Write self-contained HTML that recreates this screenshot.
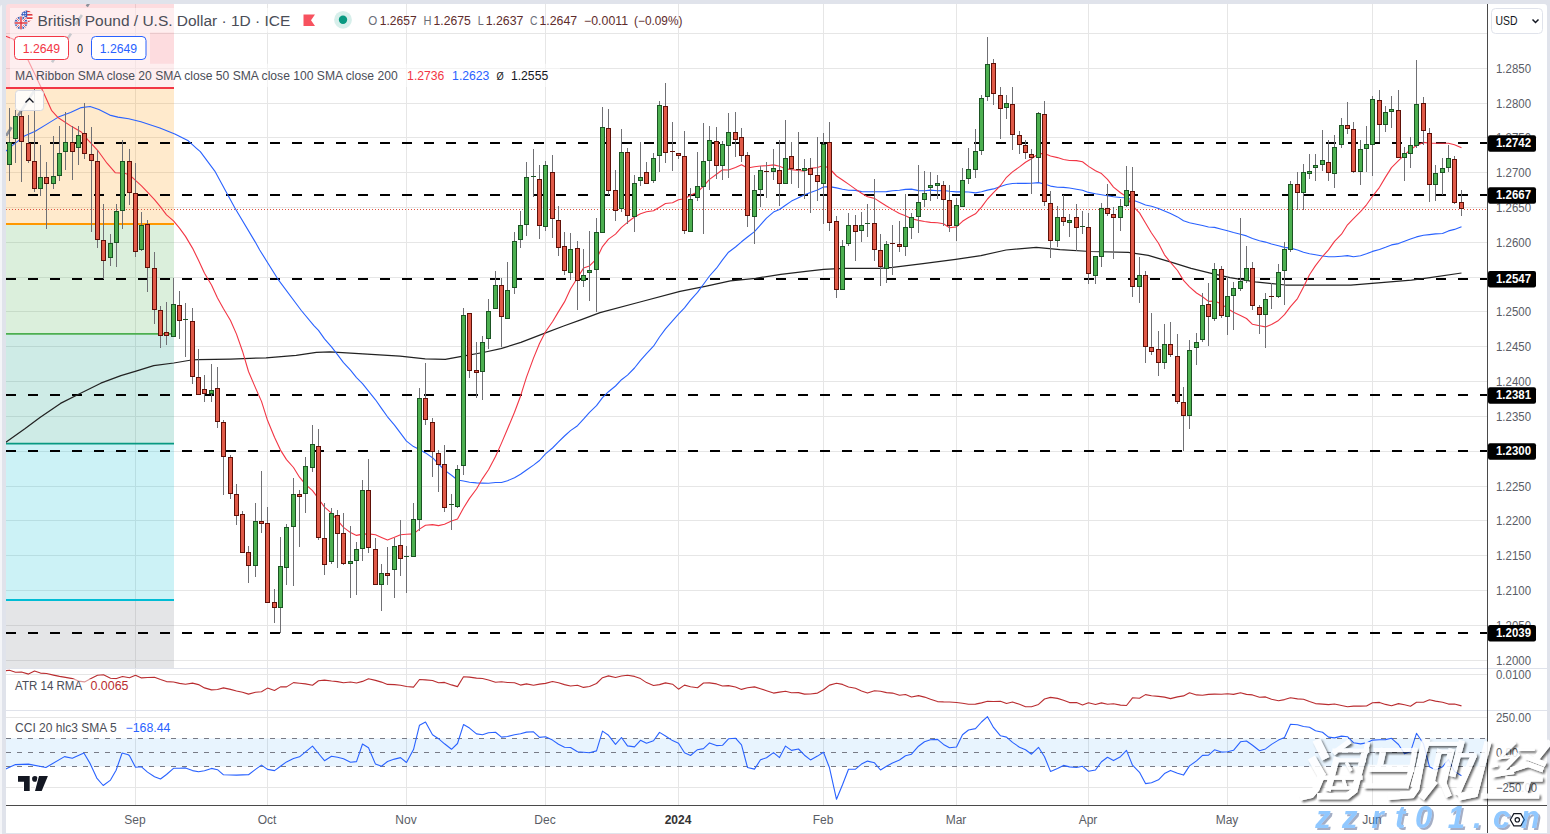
<!DOCTYPE html>
<html><head><meta charset="utf-8"><title>GBPUSD</title><style>html,body{margin:0;padding:0;background:#fff;}body{width:1550px;height:834px;overflow:hidden;font-family:"Liberation Sans",sans-serif;}svg{display:block;}</style></head><body>
<svg width="1550" height="834" viewBox="0 0 1550 834">
<rect width="1550" height="834" fill="#ffffff"/>
<g stroke="#e6e6e6" stroke-width="1" shape-rendering="crispEdges"><line x1="6" x2="1487.5" y1="33.5" y2="33.5"/><line x1="6" x2="1487.5" y1="68.5" y2="68.5"/><line x1="6" x2="1487.5" y1="103.5" y2="103.5"/><line x1="6" x2="1487.5" y1="137.5" y2="137.5"/><line x1="6" x2="1487.5" y1="172.5" y2="172.5"/><line x1="6" x2="1487.5" y1="207.5" y2="207.5"/><line x1="6" x2="1487.5" y1="242.5" y2="242.5"/><line x1="6" x2="1487.5" y1="277.5" y2="277.5"/><line x1="6" x2="1487.5" y1="311.5" y2="311.5"/><line x1="6" x2="1487.5" y1="346.5" y2="346.5"/><line x1="6" x2="1487.5" y1="381.5" y2="381.5"/><line x1="6" x2="1487.5" y1="416.5" y2="416.5"/><line x1="6" x2="1487.5" y1="451.5" y2="451.5"/><line x1="6" x2="1487.5" y1="486.5" y2="486.5"/><line x1="6" x2="1487.5" y1="520.5" y2="520.5"/><line x1="6" x2="1487.5" y1="555.5" y2="555.5"/><line x1="6" x2="1487.5" y1="590.5" y2="590.5"/><line x1="6" x2="1487.5" y1="625.5" y2="625.5"/><line x1="6" x2="1487.5" y1="660.5" y2="660.5"/><line x1="135.5" x2="135.5" y1="4" y2="805.5"/><line x1="267.5" x2="267.5" y1="4" y2="805.5"/><line x1="406.5" x2="406.5" y1="4" y2="805.5"/><line x1="545.5" x2="545.5" y1="4" y2="805.5"/><line x1="678.5" x2="678.5" y1="4" y2="805.5"/><line x1="823.5" x2="823.5" y1="4" y2="805.5"/><line x1="956.5" x2="956.5" y1="4" y2="805.5"/><line x1="1088.5" x2="1088.5" y1="4" y2="805.5"/><line x1="1227.5" x2="1227.5" y1="4" y2="805.5"/><line x1="1372.5" x2="1372.5" y1="4" y2="805.5"/><line x1="6" x2="1487.5" y1="674.5" y2="674.5"/><line x1="6" x2="1487.5" y1="717.5" y2="717.5"/><line x1="6" x2="1487.5" y1="787.5" y2="787.5"/></g>
<rect x="6" y="4" width="168" height="84" fill="#f7525f" fill-opacity="0.2"/>
<rect x="6" y="88" width="168" height="136" fill="#ff9800" fill-opacity="0.2"/>
<rect x="6" y="224" width="168" height="109.80000000000001" fill="#4caf50" fill-opacity="0.2"/>
<rect x="6" y="333.8" width="168" height="109.89999999999998" fill="#089981" fill-opacity="0.2"/>
<rect x="6" y="443.7" width="168" height="156.3" fill="#00bcd4" fill-opacity="0.2"/>
<rect x="6" y="600" width="168" height="68" fill="#787b86" fill-opacity="0.2"/>
<line x1="6" x2="174" y1="88" y2="88" stroke="#f23645" stroke-width="1.8"/>
<line x1="6" x2="174" y1="224" y2="224" stroke="#ff9800" stroke-width="1.8"/>
<line x1="6" x2="174" y1="333.8" y2="333.8" stroke="#4caf50" stroke-width="1.8"/>
<line x1="6" x2="174" y1="443.7" y2="443.7" stroke="#089981" stroke-width="1.8"/>
<line x1="6" x2="174" y1="600" y2="600" stroke="#00bcd4" stroke-width="1.8"/>
<line x1="6" x2="1487.5" y1="143" y2="143" stroke="#000" stroke-width="2" stroke-dasharray="10 12" shape-rendering="crispEdges"/>
<line x1="6" x2="1487.5" y1="195" y2="195" stroke="#000" stroke-width="2" stroke-dasharray="10 12" shape-rendering="crispEdges"/>
<line x1="6" x2="1487.5" y1="279" y2="279" stroke="#000" stroke-width="2" stroke-dasharray="10 12" shape-rendering="crispEdges"/>
<line x1="6" x2="1487.5" y1="395" y2="395" stroke="#000" stroke-width="2" stroke-dasharray="10 12" shape-rendering="crispEdges"/>
<line x1="6" x2="1487.5" y1="451" y2="451" stroke="#000" stroke-width="2" stroke-dasharray="10 12" shape-rendering="crispEdges"/>
<line x1="6" x2="1487.5" y1="633" y2="633" stroke="#000" stroke-width="2" stroke-dasharray="10 12" shape-rendering="crispEdges"/>
<line x1="6" x2="1487.5" y1="209.5" y2="209.5" stroke="#e0533f" stroke-width="1" stroke-dasharray="1 2" shape-rendering="crispEdges"/>
<path d="M6.1,135.8L11.5,127.2M18,115.7L34.2,90.8M52,62.3L71,33.6M75.6,24.4L81.9,15.1M86.8,6.5L89,3" fill="none" stroke="#8f929b" stroke-width="2.6"/>
<polyline points="5.5,442.4 25.2,428.5 40.3,417.2 60.5,403.4 80.6,393.3 100.8,383.2 120.9,375.6 136.0,371.1 153.7,365.6 173.8,363.0 191.4,360.0 198.0,359.6 230.8,359.1 266.0,357.8 296.2,355.3 316.4,352.3 330.0,351.8 400.0,356.2 425.2,358.8 445.3,359.3 463.0,356.2 483.1,352.5 500.8,348.7 520.9,342.4 543.6,333.6 563.7,326.0 581.4,319.7 600.0,312.7 640.0,302.0 680.0,291.4 705.2,286.4 730.4,280.9 755.6,278.3 780.8,274.3 805.9,271.3 823.6,269.3 843.7,268.3 880.0,268.3 892.7,267.4 923.0,263.7 955.7,259.4 980.9,255.6 1006.1,250.0 1036.3,247.3 1060.0,249.6 1090.4,251.5 1128.2,252.3 1148.3,255.3 1171.0,262.1 1191.1,268.4 1211.3,273.4 1230.0,277.6 1255.2,281.9 1285.4,285.0 1320.0,285.2 1350.9,285.1 1381.1,282.6 1411.4,280.1 1430.0,277.6 1461.5,273.0" fill="none" stroke="#222222" stroke-width="1.25" stroke-linejoin="round" />
<polyline points="6.1,151.0 12.2,145.6 24.4,136.1 35.2,131.3 46.1,124.6 58.3,117.1 70.5,112.4 81.3,107.6 90.1,106.5 98.9,109.6 109.8,115.1 117.9,117.1 128.7,118.7 140.9,121.8 159.9,127.9 174.8,134.0 188.3,140.8 196.5,148.3 200.3,151.7 214.8,171.1 234.9,208.0 255.0,241.6 259.7,250.0 278.6,280.2 301.3,310.5 313.9,325.6 318.5,330.4 324.5,338.9 331.5,346.8 337.5,354.6 343.5,362.7 350.5,370.1 356.5,377.6 362.5,383.7 368.5,391.1 375.5,399.8 381.5,408.4 387.5,416.8 394.5,425.1 400.5,433.2 406.5,441.1 413.5,446.6 419.5,449.4 425.5,452.9 432.5,457.7 438.5,463.8 444.5,470.1 451.5,475.2 457.5,480.0 463.5,481.0 469.5,482.2 476.5,482.9 482.5,483.1 488.5,483.2 495.5,482.5 501.5,482.5 507.5,480.7 514.5,477.7 520.5,474.3 526.5,470.0 533.5,465.1 539.5,460.5 545.5,453.9 552.5,448.0 558.5,441.9 564.5,436.0 570.5,430.6 577.5,425.7 583.5,419.2 589.5,412.4 596.5,405.7 602.5,397.7 608.5,391.7 615.5,386.0 621.5,379.7 627.5,375.1 634.5,368.0 640.5,360.3 646.5,353.7 653.5,346.2 659.5,337.0 665.5,328.9 672.5,320.9 678.5,314.2 684.5,307.9 690.5,300.2 697.5,292.4 703.5,284.2 709.5,276.0 716.5,268.2 722.5,259.9 728.5,252.2 735.5,247.0 741.5,241.8 747.5,237.0 754.5,231.6 760.5,224.8 766.5,218.1 773.5,212.1 779.5,209.5 785.5,205.2 791.5,201.1 798.5,197.7 804.5,194.8 810.5,192.6 817.5,189.9 823.5,187.0 829.5,186.6 836.5,187.9 842.5,189.3 848.5,190.3 855.5,190.4 861.5,191.6 867.5,191.7 874.5,191.8 880.5,191.7 886.5,191.6 892.5,190.8 899.5,190.3 905.5,189.4 911.5,189.1 918.5,190.6 924.5,190.7 930.5,190.1 937.5,190.8 943.5,190.5 949.5,191.3 956.5,191.9 962.5,191.8 968.5,192.0 975.5,192.9 981.5,191.8 987.5,190.1 993.5,188.9 1000.5,186.4 1006.5,184.5 1012.5,183.5 1019.5,183.2 1025.5,183.4 1031.5,183.3 1038.5,182.6 1044.5,184.0 1050.5,186.1 1057.5,187.3 1063.5,187.4 1069.5,188.0 1076.5,189.2 1082.5,190.3 1088.5,192.4 1095.5,193.8 1101.5,194.8 1107.5,195.8 1113.5,196.7 1120.5,197.5 1126.5,197.8 1132.5,199.9 1139.5,202.5 1145.5,205.0 1151.5,206.2 1158.5,208.5 1164.5,210.9 1170.5,213.4 1177.5,216.9 1183.5,220.8 1189.5,222.8 1196.5,224.3 1202.5,225.5 1208.5,227.0 1214.5,227.4 1221.5,229.2 1227.5,230.8 1233.5,232.5 1240.5,234.3 1246.5,235.9 1252.5,238.4 1259.5,240.7 1265.5,242.1 1271.5,244.0 1278.5,245.8 1284.5,247.4 1290.5,248.1 1297.5,250.0 1303.5,252.2 1309.5,253.7 1315.5,254.8 1322.5,256.0 1328.5,256.7 1334.5,256.8 1341.5,256.2 1347.5,255.6 1353.5,256.8 1360.5,255.7 1366.5,253.8 1372.5,251.4 1379.5,249.5 1385.5,247.3 1391.5,244.9 1398.5,243.6 1404.5,241.2 1410.5,239.0 1416.5,236.9 1423.5,235.2 1429.5,234.6 1435.5,233.9 1442.5,233.5 1448.5,230.9 1454.5,229.4 1461.5,226.7" fill="none" stroke="#2962ff" stroke-width="1.1" stroke-linejoin="round" />
<polyline points="5.8,36.3 13.0,38.9 27.8,59.6 42.7,90.7 51.5,110.3 58.3,117.8 71.8,126.6 81.3,132.0 88.1,140.1 97.6,150.3 107.0,163.2 115.2,172.7 124.7,173.3 129.5,174.9 135.5,180.4 141.5,185.8 147.5,192.1 154.5,199.6 160.5,206.9 166.5,214.9 173.5,220.8 179.5,228.1 185.5,236.4 192.5,248.1 198.5,260.2 204.5,273.2 211.5,285.0 217.5,298.0 223.5,308.8 230.5,320.5 236.5,334.1 242.5,351.2 248.5,371.5 255.5,387.9 261.5,401.4 267.5,420.3 274.5,437.3 280.5,450.1 286.5,459.6 293.5,467.5 299.5,477.2 305.5,484.4 312.5,490.7 318.5,498.7 324.5,507.1 331.5,513.1 337.5,520.3 343.5,527.4 350.5,532.6 356.5,535.4 362.5,534.1 368.5,533.9 375.5,534.8 381.5,537.4 387.5,540.0 394.5,537.2 400.5,534.8 406.5,534.3 413.5,533.9 419.5,529.1 425.5,525.3 432.5,524.6 438.5,525.6 444.5,524.2 451.5,521.1 457.5,518.9 463.5,508.0 469.5,498.4 476.5,489.0 482.5,478.6 488.5,469.7 495.5,456.5 501.5,443.1 507.5,429.0 514.5,412.3 520.5,396.2 526.5,377.1 533.5,358.1 539.5,343.5 545.5,331.8 552.5,321.8 558.5,311.6 564.5,301.9 570.5,289.0 577.5,277.8 583.5,268.1 589.5,265.9 596.5,258.9 602.5,246.6 608.5,239.1 615.5,234.1 621.5,227.4 627.5,222.3 634.5,217.0 640.5,213.8 646.5,211.7 653.5,210.8 659.5,207.2 665.5,203.5 672.5,202.8 678.5,199.7 684.5,198.8 690.5,195.2 697.5,192.1 703.5,186.2 709.5,179.4 716.5,174.2 722.5,169.8 728.5,170.0 735.5,167.5 741.5,164.7 747.5,168.0 754.5,166.7 760.5,166.0 766.5,165.7 773.5,164.9 779.5,166.2 785.5,168.8 791.5,169.6 798.5,170.5 804.5,171.1 810.5,168.4 817.5,167.5 823.5,165.4 829.5,168.5 836.5,176.0 842.5,180.0 848.5,184.1 855.5,189.1 861.5,193.3 867.5,196.7 874.5,198.4 880.5,202.2 886.5,206.0 892.5,209.6 899.5,213.6 905.5,215.7 911.5,218.7 918.5,220.4 924.5,221.5 930.5,222.4 937.5,222.8 943.5,223.7 949.5,227.8 956.5,226.9 962.5,221.3 968.5,217.5 975.5,213.8 981.5,207.1 987.5,199.0 993.5,192.6 1000.5,185.5 1006.5,177.3 1012.5,171.9 1019.5,166.9 1025.5,162.2 1031.5,158.8 1038.5,153.6 1044.5,153.6 1050.5,156.0 1057.5,157.6 1063.5,159.5 1069.5,160.5 1076.5,160.6 1082.5,161.7 1088.5,166.4 1095.5,170.8 1101.5,173.6 1107.5,179.4 1113.5,187.1 1120.5,192.7 1126.5,196.7 1132.5,205.9 1139.5,212.9 1145.5,223.0 1151.5,233.0 1158.5,243.2 1164.5,254.8 1170.5,262.4 1177.5,270.5 1183.5,280.4 1189.5,286.8 1196.5,293.0 1202.5,296.8 1208.5,301.4 1214.5,301.1 1221.5,304.1 1227.5,308.5 1233.5,312.2 1240.5,315.4 1246.5,318.5 1252.5,324.3 1259.5,325.7 1265.5,326.9 1271.5,324.4 1278.5,320.4 1284.5,314.7 1290.5,306.7 1297.5,298.6 1303.5,287.1 1309.5,274.8 1315.5,265.6 1322.5,256.5 1328.5,249.9 1334.5,241.4 1341.5,234.2 1347.5,224.8 1353.5,218.6 1360.5,211.7 1366.5,204.8 1372.5,196.3 1379.5,187.3 1385.5,177.1 1391.5,167.6 1398.5,160.7 1404.5,154.8 1410.5,149.6 1416.5,145.5 1423.5,142.4 1429.5,143.1 1435.5,143.2 1442.5,143.3 1448.5,143.2 1454.5,144.7 1461.5,147.8" fill="none" stroke="#f23645" stroke-width="1.1" stroke-linejoin="round" />
<g shape-rendering="crispEdges"><rect x="9" y="108" width="1" height="73" fill="#707074"/><rect x="7" y="142" width="5" height="23" fill="#1b5423"/><rect x="8" y="143" width="3" height="21" fill="#4caf50"/><rect x="15" y="110" width="1" height="53" fill="#707074"/><rect x="13" y="116" width="5" height="23" fill="#1b5423"/><rect x="14" y="117" width="3" height="21" fill="#4caf50"/><rect x="21" y="109" width="1" height="73" fill="#707074"/><rect x="19" y="116" width="5" height="26" fill="#5e1008"/><rect x="20" y="117" width="3" height="24" fill="#e05a48"/><rect x="28" y="115" width="1" height="48" fill="#707074"/><rect x="26" y="143" width="5" height="18" fill="#5e1008"/><rect x="27" y="144" width="3" height="16" fill="#e05a48"/><rect x="34" y="89" width="1" height="103" fill="#707074"/><rect x="32" y="161" width="5" height="28" fill="#5e1008"/><rect x="33" y="162" width="3" height="26" fill="#e05a48"/><rect x="40" y="145" width="1" height="51" fill="#707074"/><rect x="38" y="177" width="5" height="12" fill="#1b5423"/><rect x="39" y="178" width="3" height="10" fill="#4caf50"/><rect x="46" y="162" width="1" height="67" fill="#707074"/><rect x="44" y="177" width="5" height="7" fill="#5e1008"/><rect x="45" y="178" width="3" height="5" fill="#e05a48"/><rect x="53" y="136" width="1" height="53" fill="#707074"/><rect x="51" y="176" width="5" height="8" fill="#1b5423"/><rect x="52" y="177" width="3" height="6" fill="#4caf50"/><rect x="59" y="126" width="1" height="55" fill="#707074"/><rect x="57" y="153" width="5" height="23" fill="#1b5423"/><rect x="58" y="154" width="3" height="21" fill="#4caf50"/><rect x="65" y="112" width="1" height="58" fill="#707074"/><rect x="63" y="142" width="5" height="10" fill="#1b5423"/><rect x="64" y="143" width="3" height="8" fill="#4caf50"/><rect x="72" y="126" width="1" height="54" fill="#707074"/><rect x="70" y="142" width="5" height="10" fill="#5e1008"/><rect x="71" y="143" width="3" height="8" fill="#e05a48"/><rect x="78" y="126" width="1" height="39" fill="#707074"/><rect x="76" y="135" width="5" height="13" fill="#1b5423"/><rect x="77" y="136" width="3" height="11" fill="#4caf50"/><rect x="84" y="103" width="1" height="56" fill="#707074"/><rect x="82" y="133" width="5" height="21" fill="#5e1008"/><rect x="83" y="134" width="3" height="19" fill="#e05a48"/><rect x="91" y="127" width="1" height="105" fill="#707074"/><rect x="89" y="154" width="5" height="7" fill="#5e1008"/><rect x="90" y="155" width="3" height="5" fill="#e05a48"/><rect x="97" y="150" width="1" height="98" fill="#707074"/><rect x="95" y="161" width="5" height="79" fill="#5e1008"/><rect x="96" y="162" width="3" height="77" fill="#e05a48"/><rect x="103" y="204" width="1" height="75" fill="#707074"/><rect x="101" y="240" width="5" height="21" fill="#5e1008"/><rect x="102" y="241" width="3" height="19" fill="#e05a48"/><rect x="110" y="234" width="1" height="32" fill="#707074"/><rect x="108" y="243" width="5" height="15" fill="#1b5423"/><rect x="109" y="244" width="3" height="13" fill="#4caf50"/><rect x="116" y="204" width="1" height="63" fill="#707074"/><rect x="114" y="211" width="5" height="32" fill="#1b5423"/><rect x="115" y="212" width="3" height="30" fill="#4caf50"/><rect x="122" y="140" width="1" height="89" fill="#707074"/><rect x="120" y="161" width="5" height="50" fill="#1b5423"/><rect x="121" y="162" width="3" height="48" fill="#4caf50"/><rect x="129" y="149" width="1" height="56" fill="#707074"/><rect x="127" y="161" width="5" height="32" fill="#5e1008"/><rect x="128" y="162" width="3" height="30" fill="#e05a48"/><rect x="135" y="163" width="1" height="94" fill="#707074"/><rect x="133" y="193" width="5" height="59" fill="#5e1008"/><rect x="134" y="194" width="3" height="57" fill="#e05a48"/><rect x="141" y="212" width="1" height="39" fill="#707074"/><rect x="139" y="225" width="5" height="25" fill="#1b5423"/><rect x="140" y="226" width="3" height="23" fill="#4caf50"/><rect x="147" y="220" width="1" height="72" fill="#707074"/><rect x="145" y="224" width="5" height="44" fill="#5e1008"/><rect x="146" y="225" width="3" height="42" fill="#e05a48"/><rect x="154" y="252" width="1" height="72" fill="#707074"/><rect x="152" y="268" width="5" height="42" fill="#5e1008"/><rect x="153" y="269" width="3" height="40" fill="#e05a48"/><rect x="160" y="306" width="1" height="42" fill="#707074"/><rect x="158" y="310" width="5" height="26" fill="#5e1008"/><rect x="159" y="311" width="3" height="24" fill="#e05a48"/><rect x="166" y="302" width="1" height="43" fill="#707074"/><rect x="164" y="332" width="5" height="4" fill="#5e1008"/><rect x="165" y="333" width="3" height="2" fill="#e05a48"/><rect x="173" y="278" width="1" height="59" fill="#707074"/><rect x="171" y="304" width="5" height="33" fill="#1b5423"/><rect x="172" y="305" width="3" height="31" fill="#4caf50"/><rect x="179" y="291" width="1" height="48" fill="#707074"/><rect x="177" y="305" width="5" height="16" fill="#5e1008"/><rect x="178" y="306" width="3" height="14" fill="#e05a48"/><rect x="185" y="303" width="1" height="54" fill="#707074"/><rect x="183" y="319" width="5" height="1" fill="#1b5423"/><rect x="192" y="308" width="1" height="76" fill="#707074"/><rect x="190" y="321" width="5" height="56" fill="#5e1008"/><rect x="191" y="322" width="3" height="54" fill="#e05a48"/><rect x="198" y="349" width="1" height="46" fill="#707074"/><rect x="196" y="377" width="5" height="18" fill="#5e1008"/><rect x="197" y="378" width="3" height="16" fill="#e05a48"/><rect x="204" y="375" width="1" height="27" fill="#707074"/><rect x="202" y="389" width="5" height="5" fill="#5e1008"/><rect x="203" y="390" width="3" height="3" fill="#e05a48"/><rect x="211" y="364" width="1" height="38" fill="#707074"/><rect x="209" y="390" width="5" height="4" fill="#1b5423"/><rect x="210" y="391" width="3" height="2" fill="#4caf50"/><rect x="217" y="367" width="1" height="61" fill="#707074"/><rect x="215" y="388" width="5" height="34" fill="#5e1008"/><rect x="216" y="389" width="3" height="32" fill="#e05a48"/><rect x="223" y="420" width="1" height="75" fill="#707074"/><rect x="221" y="422" width="5" height="35" fill="#5e1008"/><rect x="222" y="423" width="3" height="33" fill="#e05a48"/><rect x="230" y="455" width="1" height="44" fill="#707074"/><rect x="228" y="457" width="5" height="37" fill="#5e1008"/><rect x="229" y="458" width="3" height="35" fill="#e05a48"/><rect x="236" y="484" width="1" height="41" fill="#707074"/><rect x="234" y="494" width="5" height="22" fill="#5e1008"/><rect x="235" y="495" width="3" height="20" fill="#e05a48"/><rect x="242" y="511" width="1" height="42" fill="#707074"/><rect x="240" y="514" width="5" height="39" fill="#5e1008"/><rect x="241" y="515" width="3" height="37" fill="#e05a48"/><rect x="248" y="546" width="1" height="37" fill="#707074"/><rect x="246" y="552" width="5" height="14" fill="#5e1008"/><rect x="247" y="553" width="3" height="12" fill="#e05a48"/><rect x="255" y="503" width="1" height="74" fill="#707074"/><rect x="253" y="521" width="5" height="45" fill="#1b5423"/><rect x="254" y="522" width="3" height="43" fill="#4caf50"/><rect x="261" y="471" width="1" height="62" fill="#707074"/><rect x="259" y="521" width="5" height="3" fill="#5e1008"/><rect x="260" y="522" width="3" height="1" fill="#e05a48"/><rect x="267" y="507" width="1" height="96" fill="#707074"/><rect x="265" y="523" width="5" height="80" fill="#5e1008"/><rect x="266" y="524" width="3" height="78" fill="#e05a48"/><rect x="274" y="589" width="1" height="34" fill="#707074"/><rect x="272" y="602" width="5" height="6" fill="#5e1008"/><rect x="273" y="603" width="3" height="4" fill="#e05a48"/><rect x="280" y="537" width="1" height="96" fill="#707074"/><rect x="278" y="566" width="5" height="42" fill="#1b5423"/><rect x="279" y="567" width="3" height="40" fill="#4caf50"/><rect x="286" y="524" width="1" height="61" fill="#707074"/><rect x="284" y="527" width="5" height="41" fill="#1b5423"/><rect x="285" y="528" width="3" height="39" fill="#4caf50"/><rect x="293" y="478" width="1" height="108" fill="#707074"/><rect x="291" y="494" width="5" height="33" fill="#1b5423"/><rect x="292" y="495" width="3" height="31" fill="#4caf50"/><rect x="299" y="490" width="1" height="57" fill="#707074"/><rect x="297" y="494" width="5" height="3" fill="#5e1008"/><rect x="298" y="495" width="3" height="1" fill="#e05a48"/><rect x="305" y="457" width="1" height="56" fill="#707074"/><rect x="303" y="466" width="5" height="28" fill="#1b5423"/><rect x="304" y="467" width="3" height="26" fill="#4caf50"/><rect x="312" y="425" width="1" height="47" fill="#707074"/><rect x="310" y="444" width="5" height="24" fill="#1b5423"/><rect x="311" y="445" width="3" height="22" fill="#4caf50"/><rect x="318" y="429" width="1" height="111" fill="#707074"/><rect x="316" y="446" width="5" height="92" fill="#5e1008"/><rect x="317" y="447" width="3" height="90" fill="#e05a48"/><rect x="324" y="503" width="1" height="72" fill="#707074"/><rect x="322" y="538" width="5" height="27" fill="#5e1008"/><rect x="323" y="539" width="3" height="25" fill="#e05a48"/><rect x="331" y="508" width="1" height="56" fill="#707074"/><rect x="329" y="513" width="5" height="49" fill="#1b5423"/><rect x="330" y="514" width="3" height="47" fill="#4caf50"/><rect x="337" y="510" width="1" height="58" fill="#707074"/><rect x="335" y="515" width="5" height="19" fill="#5e1008"/><rect x="336" y="516" width="3" height="17" fill="#e05a48"/><rect x="343" y="513" width="1" height="52" fill="#707074"/><rect x="341" y="533" width="5" height="31" fill="#5e1008"/><rect x="342" y="534" width="3" height="29" fill="#e05a48"/><rect x="350" y="526" width="1" height="72" fill="#707074"/><rect x="348" y="561" width="5" height="3" fill="#1b5423"/><rect x="349" y="562" width="3" height="1" fill="#4caf50"/><rect x="356" y="542" width="1" height="53" fill="#707074"/><rect x="354" y="549" width="5" height="12" fill="#1b5423"/><rect x="355" y="550" width="3" height="10" fill="#4caf50"/><rect x="362" y="480" width="1" height="81" fill="#707074"/><rect x="360" y="490" width="5" height="59" fill="#1b5423"/><rect x="361" y="491" width="3" height="57" fill="#4caf50"/><rect x="368" y="459" width="1" height="94" fill="#707074"/><rect x="366" y="490" width="5" height="58" fill="#5e1008"/><rect x="367" y="491" width="3" height="56" fill="#e05a48"/><rect x="375" y="538" width="1" height="47" fill="#707074"/><rect x="373" y="549" width="5" height="36" fill="#5e1008"/><rect x="374" y="550" width="3" height="34" fill="#e05a48"/><rect x="381" y="564" width="1" height="47" fill="#707074"/><rect x="379" y="573" width="5" height="12" fill="#1b5423"/><rect x="380" y="574" width="3" height="10" fill="#4caf50"/><rect x="387" y="547" width="1" height="38" fill="#707074"/><rect x="385" y="573" width="5" height="3" fill="#5e1008"/><rect x="386" y="574" width="3" height="1" fill="#e05a48"/><rect x="394" y="538" width="1" height="60" fill="#707074"/><rect x="392" y="546" width="5" height="24" fill="#1b5423"/><rect x="393" y="547" width="3" height="22" fill="#4caf50"/><rect x="400" y="520" width="1" height="56" fill="#707074"/><rect x="398" y="545" width="5" height="14" fill="#5e1008"/><rect x="399" y="546" width="3" height="12" fill="#e05a48"/><rect x="406" y="546" width="1" height="47" fill="#707074"/><rect x="404" y="556" width="5" height="1" fill="#1b5423"/><rect x="413" y="503" width="1" height="54" fill="#707074"/><rect x="411" y="519" width="5" height="38" fill="#1b5423"/><rect x="412" y="520" width="3" height="36" fill="#4caf50"/><rect x="419" y="388" width="1" height="143" fill="#707074"/><rect x="417" y="398" width="5" height="122" fill="#1b5423"/><rect x="418" y="399" width="3" height="120" fill="#4caf50"/><rect x="425" y="363" width="1" height="62" fill="#707074"/><rect x="423" y="398" width="5" height="22" fill="#5e1008"/><rect x="424" y="399" width="3" height="20" fill="#e05a48"/><rect x="432" y="418" width="1" height="59" fill="#707074"/><rect x="430" y="422" width="5" height="30" fill="#5e1008"/><rect x="431" y="423" width="3" height="28" fill="#e05a48"/><rect x="438" y="450" width="1" height="42" fill="#707074"/><rect x="436" y="453" width="5" height="12" fill="#5e1008"/><rect x="437" y="454" width="3" height="10" fill="#e05a48"/><rect x="444" y="445" width="1" height="67" fill="#707074"/><rect x="442" y="464" width="5" height="44" fill="#5e1008"/><rect x="443" y="465" width="3" height="42" fill="#e05a48"/><rect x="451" y="494" width="1" height="36" fill="#707074"/><rect x="449" y="504" width="5" height="1" fill="#1b5423"/><rect x="457" y="465" width="1" height="43" fill="#707074"/><rect x="455" y="469" width="5" height="38" fill="#1b5423"/><rect x="456" y="470" width="3" height="36" fill="#4caf50"/><rect x="463" y="308" width="1" height="167" fill="#707074"/><rect x="461" y="315" width="5" height="151" fill="#1b5423"/><rect x="462" y="316" width="3" height="149" fill="#4caf50"/><rect x="469" y="313" width="1" height="65" fill="#707074"/><rect x="467" y="313" width="5" height="58" fill="#5e1008"/><rect x="468" y="314" width="3" height="56" fill="#e05a48"/><rect x="476" y="342" width="1" height="56" fill="#707074"/><rect x="474" y="370" width="5" height="3" fill="#5e1008"/><rect x="475" y="371" width="3" height="1" fill="#e05a48"/><rect x="482" y="336" width="1" height="64" fill="#707074"/><rect x="480" y="342" width="5" height="30" fill="#1b5423"/><rect x="481" y="343" width="3" height="28" fill="#4caf50"/><rect x="488" y="299" width="1" height="50" fill="#707074"/><rect x="486" y="311" width="5" height="28" fill="#1b5423"/><rect x="487" y="312" width="3" height="26" fill="#4caf50"/><rect x="495" y="271" width="1" height="38" fill="#707074"/><rect x="493" y="285" width="5" height="24" fill="#1b5423"/><rect x="494" y="286" width="3" height="22" fill="#4caf50"/><rect x="501" y="278" width="1" height="69" fill="#707074"/><rect x="499" y="285" width="5" height="32" fill="#5e1008"/><rect x="500" y="286" width="3" height="30" fill="#e05a48"/><rect x="507" y="262" width="1" height="57" fill="#707074"/><rect x="505" y="290" width="5" height="29" fill="#1b5423"/><rect x="506" y="291" width="3" height="27" fill="#4caf50"/><rect x="514" y="232" width="1" height="62" fill="#707074"/><rect x="512" y="241" width="5" height="47" fill="#1b5423"/><rect x="513" y="242" width="3" height="45" fill="#4caf50"/><rect x="520" y="211" width="1" height="37" fill="#707074"/><rect x="518" y="225" width="5" height="15" fill="#1b5423"/><rect x="519" y="226" width="3" height="13" fill="#4caf50"/><rect x="526" y="162" width="1" height="74" fill="#707074"/><rect x="524" y="177" width="5" height="48" fill="#1b5423"/><rect x="525" y="178" width="3" height="46" fill="#4caf50"/><rect x="533" y="149" width="1" height="48" fill="#707074"/><rect x="531" y="176" width="5" height="1" fill="#1b5423"/><rect x="539" y="165" width="1" height="74" fill="#707074"/><rect x="537" y="179" width="5" height="47" fill="#5e1008"/><rect x="538" y="180" width="3" height="45" fill="#e05a48"/><rect x="545" y="161" width="1" height="70" fill="#707074"/><rect x="543" y="165" width="5" height="62" fill="#1b5423"/><rect x="544" y="166" width="3" height="60" fill="#4caf50"/><rect x="552" y="155" width="1" height="83" fill="#707074"/><rect x="550" y="172" width="5" height="47" fill="#5e1008"/><rect x="551" y="173" width="3" height="45" fill="#e05a48"/><rect x="558" y="206" width="1" height="50" fill="#707074"/><rect x="556" y="220" width="5" height="28" fill="#5e1008"/><rect x="557" y="221" width="3" height="26" fill="#e05a48"/><rect x="564" y="232" width="1" height="43" fill="#707074"/><rect x="562" y="246" width="5" height="25" fill="#5e1008"/><rect x="563" y="247" width="3" height="23" fill="#e05a48"/><rect x="570" y="233" width="1" height="47" fill="#707074"/><rect x="568" y="249" width="5" height="24" fill="#1b5423"/><rect x="569" y="250" width="3" height="22" fill="#4caf50"/><rect x="577" y="241" width="1" height="69" fill="#707074"/><rect x="575" y="248" width="5" height="33" fill="#5e1008"/><rect x="576" y="249" width="3" height="31" fill="#e05a48"/><rect x="583" y="249" width="1" height="38" fill="#707074"/><rect x="581" y="275" width="5" height="6" fill="#1b5423"/><rect x="582" y="276" width="3" height="4" fill="#4caf50"/><rect x="589" y="231" width="1" height="70" fill="#707074"/><rect x="587" y="270" width="5" height="3" fill="#1b5423"/><rect x="588" y="271" width="3" height="1" fill="#4caf50"/><rect x="596" y="218" width="1" height="94" fill="#707074"/><rect x="594" y="232" width="5" height="38" fill="#1b5423"/><rect x="595" y="233" width="3" height="36" fill="#4caf50"/><rect x="602" y="107" width="1" height="126" fill="#707074"/><rect x="600" y="127" width="5" height="106" fill="#1b5423"/><rect x="601" y="128" width="3" height="104" fill="#4caf50"/><rect x="608" y="109" width="1" height="86" fill="#707074"/><rect x="606" y="128" width="5" height="63" fill="#5e1008"/><rect x="607" y="129" width="3" height="61" fill="#e05a48"/><rect x="615" y="170" width="1" height="51" fill="#707074"/><rect x="613" y="190" width="5" height="21" fill="#5e1008"/><rect x="614" y="191" width="3" height="19" fill="#e05a48"/><rect x="621" y="129" width="1" height="83" fill="#707074"/><rect x="619" y="152" width="5" height="57" fill="#1b5423"/><rect x="620" y="153" width="3" height="55" fill="#4caf50"/><rect x="627" y="148" width="1" height="76" fill="#707074"/><rect x="625" y="152" width="5" height="64" fill="#5e1008"/><rect x="626" y="153" width="3" height="62" fill="#e05a48"/><rect x="634" y="175" width="1" height="57" fill="#707074"/><rect x="632" y="183" width="5" height="34" fill="#1b5423"/><rect x="633" y="184" width="3" height="32" fill="#4caf50"/><rect x="640" y="142" width="1" height="44" fill="#707074"/><rect x="638" y="177" width="5" height="4" fill="#1b5423"/><rect x="639" y="178" width="3" height="2" fill="#4caf50"/><rect x="646" y="162" width="1" height="22" fill="#707074"/><rect x="644" y="172" width="5" height="12" fill="#5e1008"/><rect x="645" y="173" width="3" height="10" fill="#e05a48"/><rect x="653" y="153" width="1" height="30" fill="#707074"/><rect x="651" y="158" width="5" height="23" fill="#1b5423"/><rect x="652" y="159" width="3" height="21" fill="#4caf50"/><rect x="659" y="101" width="1" height="71" fill="#707074"/><rect x="657" y="105" width="5" height="51" fill="#1b5423"/><rect x="658" y="106" width="3" height="49" fill="#4caf50"/><rect x="665" y="83" width="1" height="80" fill="#707074"/><rect x="663" y="106" width="5" height="47" fill="#5e1008"/><rect x="664" y="107" width="3" height="45" fill="#e05a48"/><rect x="672" y="122" width="1" height="49" fill="#707074"/><rect x="670" y="151" width="5" height="1" fill="#5e1008"/><rect x="678" y="153" width="1" height="6" fill="#707074"/><rect x="676" y="153" width="5" height="3" fill="#5e1008"/><rect x="677" y="154" width="3" height="1" fill="#e05a48"/><rect x="684" y="131" width="1" height="103" fill="#707074"/><rect x="682" y="156" width="5" height="75" fill="#5e1008"/><rect x="683" y="157" width="3" height="73" fill="#e05a48"/><rect x="690" y="188" width="1" height="44" fill="#707074"/><rect x="688" y="199" width="5" height="33" fill="#1b5423"/><rect x="689" y="200" width="3" height="31" fill="#4caf50"/><rect x="697" y="152" width="1" height="49" fill="#707074"/><rect x="695" y="186" width="5" height="12" fill="#1b5423"/><rect x="696" y="187" width="3" height="10" fill="#4caf50"/><rect x="703" y="123" width="1" height="111" fill="#707074"/><rect x="701" y="161" width="5" height="26" fill="#1b5423"/><rect x="702" y="162" width="3" height="24" fill="#4caf50"/><rect x="709" y="126" width="1" height="64" fill="#707074"/><rect x="707" y="140" width="5" height="21" fill="#1b5423"/><rect x="708" y="141" width="3" height="19" fill="#4caf50"/><rect x="716" y="127" width="1" height="52" fill="#707074"/><rect x="714" y="141" width="5" height="25" fill="#5e1008"/><rect x="715" y="142" width="3" height="23" fill="#e05a48"/><rect x="722" y="141" width="1" height="39" fill="#707074"/><rect x="720" y="144" width="5" height="22" fill="#1b5423"/><rect x="721" y="145" width="3" height="20" fill="#4caf50"/><rect x="728" y="113" width="1" height="65" fill="#707074"/><rect x="726" y="132" width="5" height="14" fill="#1b5423"/><rect x="727" y="133" width="3" height="12" fill="#4caf50"/><rect x="735" y="112" width="1" height="45" fill="#707074"/><rect x="733" y="132" width="5" height="8" fill="#5e1008"/><rect x="734" y="133" width="3" height="6" fill="#e05a48"/><rect x="741" y="128" width="1" height="34" fill="#707074"/><rect x="739" y="137" width="5" height="19" fill="#5e1008"/><rect x="740" y="138" width="3" height="17" fill="#e05a48"/><rect x="747" y="152" width="1" height="75" fill="#707074"/><rect x="745" y="155" width="5" height="61" fill="#5e1008"/><rect x="746" y="156" width="3" height="59" fill="#e05a48"/><rect x="754" y="175" width="1" height="69" fill="#707074"/><rect x="752" y="190" width="5" height="27" fill="#1b5423"/><rect x="753" y="191" width="3" height="25" fill="#4caf50"/><rect x="760" y="166" width="1" height="41" fill="#707074"/><rect x="758" y="170" width="5" height="20" fill="#1b5423"/><rect x="759" y="171" width="3" height="18" fill="#4caf50"/><rect x="766" y="162" width="1" height="36" fill="#707074"/><rect x="764" y="171" width="5" height="1" fill="#5e1008"/><rect x="773" y="149" width="1" height="31" fill="#707074"/><rect x="771" y="168" width="5" height="4" fill="#1b5423"/><rect x="772" y="169" width="3" height="2" fill="#4caf50"/><rect x="779" y="140" width="1" height="66" fill="#707074"/><rect x="777" y="170" width="5" height="14" fill="#5e1008"/><rect x="778" y="171" width="3" height="12" fill="#e05a48"/><rect x="785" y="120" width="1" height="64" fill="#707074"/><rect x="783" y="158" width="5" height="26" fill="#1b5423"/><rect x="784" y="159" width="3" height="24" fill="#4caf50"/><rect x="791" y="142" width="1" height="42" fill="#707074"/><rect x="789" y="156" width="5" height="13" fill="#5e1008"/><rect x="790" y="157" width="3" height="11" fill="#e05a48"/><rect x="798" y="132" width="1" height="56" fill="#707074"/><rect x="796" y="169" width="5" height="1" fill="#5e1008"/><rect x="804" y="159" width="1" height="40" fill="#707074"/><rect x="802" y="168" width="5" height="3" fill="#1b5423"/><rect x="803" y="169" width="3" height="1" fill="#4caf50"/><rect x="810" y="158" width="1" height="55" fill="#707074"/><rect x="808" y="168" width="5" height="7" fill="#5e1008"/><rect x="809" y="169" width="3" height="5" fill="#e05a48"/><rect x="817" y="137" width="1" height="64" fill="#707074"/><rect x="815" y="175" width="5" height="7" fill="#5e1008"/><rect x="816" y="176" width="3" height="5" fill="#e05a48"/><rect x="823" y="133" width="1" height="91" fill="#707074"/><rect x="821" y="144" width="5" height="40" fill="#1b5423"/><rect x="822" y="145" width="3" height="38" fill="#4caf50"/><rect x="829" y="122" width="1" height="109" fill="#707074"/><rect x="827" y="142" width="5" height="81" fill="#5e1008"/><rect x="828" y="143" width="3" height="79" fill="#e05a48"/><rect x="836" y="216" width="1" height="82" fill="#707074"/><rect x="834" y="221" width="5" height="69" fill="#5e1008"/><rect x="835" y="222" width="3" height="67" fill="#e05a48"/><rect x="842" y="240" width="1" height="50" fill="#707074"/><rect x="840" y="246" width="5" height="44" fill="#1b5423"/><rect x="841" y="247" width="3" height="42" fill="#4caf50"/><rect x="848" y="213" width="1" height="33" fill="#707074"/><rect x="846" y="225" width="5" height="19" fill="#1b5423"/><rect x="847" y="226" width="3" height="17" fill="#4caf50"/><rect x="855" y="215" width="1" height="46" fill="#707074"/><rect x="853" y="225" width="5" height="7" fill="#5e1008"/><rect x="854" y="226" width="3" height="5" fill="#e05a48"/><rect x="861" y="212" width="1" height="30" fill="#707074"/><rect x="859" y="225" width="5" height="6" fill="#1b5423"/><rect x="860" y="226" width="3" height="4" fill="#4caf50"/><rect x="867" y="204" width="1" height="33" fill="#707074"/><rect x="865" y="223" width="5" height="1" fill="#1b5423"/><rect x="874" y="179" width="1" height="82" fill="#707074"/><rect x="872" y="223" width="5" height="27" fill="#5e1008"/><rect x="873" y="224" width="3" height="25" fill="#e05a48"/><rect x="880" y="234" width="1" height="52" fill="#707074"/><rect x="878" y="250" width="5" height="17" fill="#5e1008"/><rect x="879" y="251" width="3" height="15" fill="#e05a48"/><rect x="886" y="241" width="1" height="42" fill="#707074"/><rect x="884" y="244" width="5" height="25" fill="#1b5423"/><rect x="885" y="245" width="3" height="23" fill="#4caf50"/><rect x="892" y="225" width="1" height="50" fill="#707074"/><rect x="890" y="243" width="5" height="1" fill="#5e1008"/><rect x="899" y="221" width="1" height="31" fill="#707074"/><rect x="897" y="244" width="5" height="3" fill="#5e1008"/><rect x="898" y="245" width="3" height="1" fill="#e05a48"/><rect x="905" y="194" width="1" height="62" fill="#707074"/><rect x="903" y="227" width="5" height="20" fill="#1b5423"/><rect x="904" y="228" width="3" height="18" fill="#4caf50"/><rect x="911" y="213" width="1" height="26" fill="#707074"/><rect x="909" y="217" width="5" height="11" fill="#1b5423"/><rect x="910" y="218" width="3" height="9" fill="#4caf50"/><rect x="918" y="165" width="1" height="68" fill="#707074"/><rect x="916" y="202" width="5" height="15" fill="#1b5423"/><rect x="917" y="203" width="3" height="13" fill="#4caf50"/><rect x="924" y="171" width="1" height="36" fill="#707074"/><rect x="922" y="193" width="5" height="7" fill="#1b5423"/><rect x="923" y="194" width="3" height="5" fill="#4caf50"/><rect x="930" y="172" width="1" height="29" fill="#707074"/><rect x="928" y="185" width="5" height="3" fill="#1b5423"/><rect x="929" y="186" width="3" height="1" fill="#4caf50"/><rect x="937" y="175" width="1" height="24" fill="#707074"/><rect x="935" y="183" width="5" height="3" fill="#1b5423"/><rect x="936" y="184" width="3" height="1" fill="#4caf50"/><rect x="943" y="181" width="1" height="45" fill="#707074"/><rect x="941" y="185" width="5" height="15" fill="#5e1008"/><rect x="942" y="186" width="3" height="13" fill="#e05a48"/><rect x="949" y="185" width="1" height="47" fill="#707074"/><rect x="947" y="200" width="5" height="26" fill="#5e1008"/><rect x="948" y="201" width="3" height="24" fill="#e05a48"/><rect x="956" y="198" width="1" height="43" fill="#707074"/><rect x="954" y="205" width="5" height="21" fill="#1b5423"/><rect x="955" y="206" width="3" height="19" fill="#4caf50"/><rect x="962" y="168" width="1" height="39" fill="#707074"/><rect x="960" y="180" width="5" height="27" fill="#1b5423"/><rect x="961" y="181" width="3" height="25" fill="#4caf50"/><rect x="968" y="148" width="1" height="36" fill="#707074"/><rect x="966" y="169" width="5" height="10" fill="#1b5423"/><rect x="967" y="170" width="3" height="8" fill="#4caf50"/><rect x="975" y="129" width="1" height="49" fill="#707074"/><rect x="973" y="151" width="5" height="19" fill="#1b5423"/><rect x="974" y="152" width="3" height="17" fill="#4caf50"/><rect x="981" y="95" width="1" height="60" fill="#707074"/><rect x="979" y="98" width="5" height="53" fill="#1b5423"/><rect x="980" y="99" width="3" height="51" fill="#4caf50"/><rect x="987" y="37" width="1" height="64" fill="#707074"/><rect x="985" y="64" width="5" height="33" fill="#1b5423"/><rect x="986" y="65" width="3" height="31" fill="#4caf50"/><rect x="993" y="59" width="1" height="46" fill="#707074"/><rect x="991" y="63" width="5" height="31" fill="#5e1008"/><rect x="992" y="64" width="3" height="29" fill="#e05a48"/><rect x="1000" y="87" width="1" height="52" fill="#707074"/><rect x="998" y="95" width="5" height="14" fill="#5e1008"/><rect x="999" y="96" width="3" height="12" fill="#e05a48"/><rect x="1006" y="95" width="1" height="24" fill="#707074"/><rect x="1004" y="103" width="5" height="5" fill="#1b5423"/><rect x="1005" y="104" width="3" height="3" fill="#4caf50"/><rect x="1012" y="87" width="1" height="63" fill="#707074"/><rect x="1010" y="104" width="5" height="31" fill="#5e1008"/><rect x="1011" y="105" width="3" height="29" fill="#e05a48"/><rect x="1019" y="131" width="1" height="23" fill="#707074"/><rect x="1017" y="135" width="5" height="10" fill="#5e1008"/><rect x="1018" y="136" width="3" height="8" fill="#e05a48"/><rect x="1025" y="140" width="1" height="19" fill="#707074"/><rect x="1023" y="145" width="5" height="8" fill="#5e1008"/><rect x="1024" y="146" width="3" height="6" fill="#e05a48"/><rect x="1031" y="149" width="1" height="45" fill="#707074"/><rect x="1029" y="154" width="5" height="4" fill="#5e1008"/><rect x="1030" y="155" width="3" height="2" fill="#e05a48"/><rect x="1038" y="112" width="1" height="70" fill="#707074"/><rect x="1036" y="113" width="5" height="45" fill="#1b5423"/><rect x="1037" y="114" width="3" height="43" fill="#4caf50"/><rect x="1044" y="101" width="1" height="105" fill="#707074"/><rect x="1042" y="114" width="5" height="88" fill="#5e1008"/><rect x="1043" y="115" width="3" height="86" fill="#e05a48"/><rect x="1050" y="191" width="1" height="67" fill="#707074"/><rect x="1048" y="203" width="5" height="38" fill="#5e1008"/><rect x="1049" y="204" width="3" height="36" fill="#e05a48"/><rect x="1057" y="206" width="1" height="41" fill="#707074"/><rect x="1055" y="217" width="5" height="24" fill="#1b5423"/><rect x="1056" y="218" width="3" height="22" fill="#4caf50"/><rect x="1063" y="195" width="1" height="31" fill="#707074"/><rect x="1061" y="217" width="5" height="5" fill="#5e1008"/><rect x="1062" y="218" width="3" height="3" fill="#e05a48"/><rect x="1069" y="214" width="1" height="23" fill="#707074"/><rect x="1067" y="220" width="5" height="3" fill="#1b5423"/><rect x="1068" y="221" width="3" height="1" fill="#4caf50"/><rect x="1076" y="204" width="1" height="47" fill="#707074"/><rect x="1074" y="217" width="5" height="11" fill="#5e1008"/><rect x="1075" y="218" width="3" height="9" fill="#e05a48"/><rect x="1082" y="211" width="1" height="23" fill="#707074"/><rect x="1080" y="226" width="5" height="1" fill="#1b5423"/><rect x="1088" y="213" width="1" height="71" fill="#707074"/><rect x="1086" y="227" width="5" height="47" fill="#5e1008"/><rect x="1087" y="228" width="3" height="45" fill="#e05a48"/><rect x="1095" y="256" width="1" height="28" fill="#707074"/><rect x="1093" y="256" width="5" height="20" fill="#1b5423"/><rect x="1094" y="257" width="3" height="18" fill="#4caf50"/><rect x="1101" y="203" width="1" height="64" fill="#707074"/><rect x="1099" y="208" width="5" height="49" fill="#1b5423"/><rect x="1100" y="209" width="3" height="47" fill="#4caf50"/><rect x="1107" y="184" width="1" height="32" fill="#707074"/><rect x="1105" y="208" width="5" height="6" fill="#5e1008"/><rect x="1106" y="209" width="3" height="4" fill="#e05a48"/><rect x="1113" y="207" width="1" height="52" fill="#707074"/><rect x="1111" y="214" width="5" height="4" fill="#5e1008"/><rect x="1112" y="215" width="3" height="2" fill="#e05a48"/><rect x="1120" y="199" width="1" height="32" fill="#707074"/><rect x="1118" y="206" width="5" height="12" fill="#1b5423"/><rect x="1119" y="207" width="3" height="10" fill="#4caf50"/><rect x="1126" y="166" width="1" height="41" fill="#707074"/><rect x="1124" y="190" width="5" height="16" fill="#1b5423"/><rect x="1125" y="191" width="3" height="14" fill="#4caf50"/><rect x="1132" y="167" width="1" height="130" fill="#707074"/><rect x="1130" y="191" width="5" height="96" fill="#5e1008"/><rect x="1131" y="192" width="3" height="94" fill="#e05a48"/><rect x="1139" y="257" width="1" height="46" fill="#707074"/><rect x="1137" y="275" width="5" height="12" fill="#1b5423"/><rect x="1138" y="276" width="3" height="10" fill="#4caf50"/><rect x="1145" y="271" width="1" height="92" fill="#707074"/><rect x="1143" y="275" width="5" height="72" fill="#5e1008"/><rect x="1144" y="276" width="3" height="70" fill="#e05a48"/><rect x="1151" y="313" width="1" height="42" fill="#707074"/><rect x="1149" y="347" width="5" height="5" fill="#5e1008"/><rect x="1150" y="348" width="3" height="3" fill="#e05a48"/><rect x="1158" y="331" width="1" height="45" fill="#707074"/><rect x="1156" y="349" width="5" height="14" fill="#5e1008"/><rect x="1157" y="350" width="3" height="12" fill="#e05a48"/><rect x="1164" y="324" width="1" height="45" fill="#707074"/><rect x="1162" y="344" width="5" height="19" fill="#1b5423"/><rect x="1163" y="345" width="3" height="17" fill="#4caf50"/><rect x="1170" y="322" width="1" height="35" fill="#707074"/><rect x="1168" y="344" width="5" height="11" fill="#5e1008"/><rect x="1169" y="345" width="3" height="9" fill="#e05a48"/><rect x="1177" y="334" width="1" height="70" fill="#707074"/><rect x="1175" y="356" width="5" height="46" fill="#5e1008"/><rect x="1176" y="357" width="3" height="44" fill="#e05a48"/><rect x="1183" y="387" width="1" height="64" fill="#707074"/><rect x="1181" y="402" width="5" height="14" fill="#5e1008"/><rect x="1182" y="403" width="3" height="12" fill="#e05a48"/><rect x="1189" y="340" width="1" height="89" fill="#707074"/><rect x="1187" y="350" width="5" height="66" fill="#1b5423"/><rect x="1188" y="351" width="3" height="64" fill="#4caf50"/><rect x="1196" y="333" width="1" height="32" fill="#707074"/><rect x="1194" y="342" width="5" height="6" fill="#1b5423"/><rect x="1195" y="343" width="3" height="4" fill="#4caf50"/><rect x="1202" y="293" width="1" height="49" fill="#707074"/><rect x="1200" y="305" width="5" height="35" fill="#1b5423"/><rect x="1201" y="306" width="3" height="33" fill="#4caf50"/><rect x="1208" y="283" width="1" height="63" fill="#707074"/><rect x="1206" y="304" width="5" height="13" fill="#5e1008"/><rect x="1207" y="305" width="3" height="11" fill="#e05a48"/><rect x="1214" y="263" width="1" height="58" fill="#707074"/><rect x="1212" y="269" width="5" height="50" fill="#1b5423"/><rect x="1213" y="270" width="3" height="48" fill="#4caf50"/><rect x="1221" y="266" width="1" height="52" fill="#707074"/><rect x="1219" y="269" width="5" height="47" fill="#5e1008"/><rect x="1220" y="270" width="3" height="45" fill="#e05a48"/><rect x="1227" y="276" width="1" height="59" fill="#707074"/><rect x="1225" y="296" width="5" height="21" fill="#1b5423"/><rect x="1226" y="297" width="3" height="19" fill="#4caf50"/><rect x="1233" y="282" width="1" height="48" fill="#707074"/><rect x="1231" y="288" width="5" height="8" fill="#1b5423"/><rect x="1232" y="289" width="3" height="6" fill="#4caf50"/><rect x="1240" y="218" width="1" height="73" fill="#707074"/><rect x="1238" y="281" width="5" height="8" fill="#1b5423"/><rect x="1239" y="282" width="3" height="6" fill="#4caf50"/><rect x="1246" y="246" width="1" height="37" fill="#707074"/><rect x="1244" y="268" width="5" height="13" fill="#1b5423"/><rect x="1245" y="269" width="3" height="11" fill="#4caf50"/><rect x="1252" y="262" width="1" height="48" fill="#707074"/><rect x="1250" y="268" width="5" height="38" fill="#5e1008"/><rect x="1251" y="269" width="3" height="36" fill="#e05a48"/><rect x="1259" y="305" width="1" height="29" fill="#707074"/><rect x="1257" y="307" width="5" height="8" fill="#5e1008"/><rect x="1258" y="308" width="3" height="6" fill="#e05a48"/><rect x="1265" y="293" width="1" height="55" fill="#707074"/><rect x="1263" y="299" width="5" height="16" fill="#1b5423"/><rect x="1264" y="300" width="3" height="14" fill="#4caf50"/><rect x="1271" y="283" width="1" height="26" fill="#707074"/><rect x="1269" y="296" width="5" height="1" fill="#5e1008"/><rect x="1278" y="264" width="1" height="34" fill="#707074"/><rect x="1276" y="272" width="5" height="25" fill="#1b5423"/><rect x="1277" y="273" width="3" height="23" fill="#4caf50"/><rect x="1284" y="242" width="1" height="63" fill="#707074"/><rect x="1282" y="249" width="5" height="22" fill="#1b5423"/><rect x="1283" y="250" width="3" height="20" fill="#4caf50"/><rect x="1290" y="181" width="1" height="71" fill="#707074"/><rect x="1288" y="184" width="5" height="66" fill="#1b5423"/><rect x="1289" y="185" width="3" height="64" fill="#4caf50"/><rect x="1297" y="172" width="1" height="38" fill="#707074"/><rect x="1295" y="184" width="5" height="9" fill="#5e1008"/><rect x="1296" y="185" width="3" height="7" fill="#e05a48"/><rect x="1303" y="164" width="1" height="46" fill="#707074"/><rect x="1301" y="172" width="5" height="21" fill="#1b5423"/><rect x="1302" y="173" width="3" height="19" fill="#4caf50"/><rect x="1309" y="154" width="1" height="25" fill="#707074"/><rect x="1307" y="171" width="5" height="3" fill="#1b5423"/><rect x="1308" y="172" width="3" height="1" fill="#4caf50"/><rect x="1315" y="154" width="1" height="27" fill="#707074"/><rect x="1313" y="165" width="5" height="3" fill="#1b5423"/><rect x="1314" y="166" width="3" height="1" fill="#4caf50"/><rect x="1322" y="130" width="1" height="41" fill="#707074"/><rect x="1320" y="160" width="5" height="5" fill="#1b5423"/><rect x="1321" y="161" width="3" height="3" fill="#4caf50"/><rect x="1328" y="140" width="1" height="41" fill="#707074"/><rect x="1326" y="162" width="5" height="11" fill="#5e1008"/><rect x="1327" y="163" width="3" height="9" fill="#e05a48"/><rect x="1334" y="135" width="1" height="53" fill="#707074"/><rect x="1332" y="147" width="5" height="27" fill="#1b5423"/><rect x="1333" y="148" width="3" height="25" fill="#4caf50"/><rect x="1341" y="118" width="1" height="30" fill="#707074"/><rect x="1339" y="125" width="5" height="20" fill="#1b5423"/><rect x="1340" y="126" width="3" height="18" fill="#4caf50"/><rect x="1347" y="102" width="1" height="32" fill="#707074"/><rect x="1345" y="125" width="5" height="4" fill="#5e1008"/><rect x="1346" y="126" width="3" height="2" fill="#e05a48"/><rect x="1353" y="122" width="1" height="51" fill="#707074"/><rect x="1351" y="129" width="5" height="43" fill="#5e1008"/><rect x="1352" y="130" width="3" height="41" fill="#e05a48"/><rect x="1360" y="140" width="1" height="45" fill="#707074"/><rect x="1358" y="149" width="5" height="23" fill="#1b5423"/><rect x="1359" y="150" width="3" height="21" fill="#4caf50"/><rect x="1366" y="126" width="1" height="46" fill="#707074"/><rect x="1364" y="144" width="5" height="5" fill="#1b5423"/><rect x="1365" y="145" width="3" height="3" fill="#4caf50"/><rect x="1372" y="96" width="1" height="80" fill="#707074"/><rect x="1370" y="99" width="5" height="46" fill="#1b5423"/><rect x="1371" y="100" width="3" height="44" fill="#4caf50"/><rect x="1379" y="90" width="1" height="52" fill="#707074"/><rect x="1377" y="100" width="5" height="25" fill="#5e1008"/><rect x="1378" y="101" width="3" height="23" fill="#e05a48"/><rect x="1385" y="106" width="1" height="26" fill="#707074"/><rect x="1383" y="112" width="5" height="13" fill="#1b5423"/><rect x="1384" y="113" width="3" height="11" fill="#4caf50"/><rect x="1391" y="96" width="1" height="32" fill="#707074"/><rect x="1389" y="109" width="5" height="3" fill="#1b5423"/><rect x="1390" y="110" width="3" height="1" fill="#4caf50"/><rect x="1398" y="90" width="1" height="68" fill="#707074"/><rect x="1396" y="110" width="5" height="48" fill="#5e1008"/><rect x="1397" y="111" width="3" height="46" fill="#e05a48"/><rect x="1404" y="147" width="1" height="34" fill="#707074"/><rect x="1402" y="153" width="5" height="5" fill="#1b5423"/><rect x="1403" y="154" width="3" height="3" fill="#4caf50"/><rect x="1410" y="137" width="1" height="31" fill="#707074"/><rect x="1408" y="145" width="5" height="9" fill="#1b5423"/><rect x="1409" y="146" width="3" height="7" fill="#4caf50"/><rect x="1416" y="60" width="1" height="88" fill="#707074"/><rect x="1414" y="104" width="5" height="42" fill="#1b5423"/><rect x="1415" y="105" width="3" height="40" fill="#4caf50"/><rect x="1423" y="97" width="1" height="48" fill="#707074"/><rect x="1421" y="103" width="5" height="28" fill="#5e1008"/><rect x="1422" y="104" width="3" height="26" fill="#e05a48"/><rect x="1429" y="128" width="1" height="74" fill="#707074"/><rect x="1427" y="133" width="5" height="52" fill="#5e1008"/><rect x="1428" y="134" width="3" height="50" fill="#e05a48"/><rect x="1435" y="165" width="1" height="36" fill="#707074"/><rect x="1433" y="173" width="5" height="12" fill="#1b5423"/><rect x="1434" y="174" width="3" height="10" fill="#4caf50"/><rect x="1442" y="158" width="1" height="37" fill="#707074"/><rect x="1440" y="168" width="5" height="5" fill="#1b5423"/><rect x="1441" y="169" width="3" height="3" fill="#4caf50"/><rect x="1448" y="145" width="1" height="27" fill="#707074"/><rect x="1446" y="158" width="5" height="10" fill="#1b5423"/><rect x="1447" y="159" width="3" height="8" fill="#4caf50"/><rect x="1454" y="156" width="1" height="48" fill="#707074"/><rect x="1452" y="159" width="5" height="44" fill="#5e1008"/><rect x="1453" y="160" width="3" height="42" fill="#e05a48"/><rect x="1461" y="190" width="1" height="26" fill="#707074"/><rect x="1459" y="202" width="5" height="7" fill="#5e1008"/><rect x="1460" y="203" width="3" height="5" fill="#e05a48"/></g>
<g shape-rendering="crispEdges"><rect x="6" y="668" width="1541" height="1" fill="#e0e3eb"/><rect x="6" y="710" width="1541" height="1" fill="#e0e3eb"/></g>
<polyline points="6.0,670.6 9.5,670.3 15.5,672.2 21.5,672.0 28.5,674.1 34.5,671.1 40.5,673.1 46.5,673.5 53.5,675.1 59.5,676.4 65.5,677.4 72.5,678.6 78.5,681.1 84.5,681.9 91.5,678.2 97.5,675.3 103.5,674.8 110.5,678.2 116.5,678.6 122.5,676.5 129.5,677.7 135.5,675.3 141.5,677.9 147.5,677.5 154.5,677.2 160.5,679.5 166.5,681.6 173.5,682.0 179.5,683.4 185.5,684.3 192.5,683.1 198.5,684.6 204.5,687.9 211.5,689.9 217.5,689.5 223.5,687.9 230.5,689.4 236.5,691.0 242.5,692.3 248.5,694.1 255.5,692.3 261.5,691.7 267.5,688.1 274.5,690.5 280.5,686.9 286.5,686.9 293.5,682.6 299.5,683.2 305.5,683.9 312.5,685.3 318.5,680.8 324.5,680.1 331.5,681.0 337.5,681.6 343.5,682.7 350.5,682.0 356.5,683.0 362.5,681.4 368.5,678.7 375.5,680.4 381.5,682.1 387.5,684.4 394.5,684.6 400.5,685.2 406.5,686.5 413.5,687.1 419.5,679.5 425.5,679.9 432.5,680.5 438.5,682.7 444.5,682.4 451.5,684.9 457.5,686.6 463.5,676.8 469.5,677.1 476.5,678.1 482.5,678.5 488.5,680.0 495.5,682.3 501.5,681.8 507.5,682.5 514.5,682.7 520.5,685.1 526.5,683.9 533.5,685.2 539.5,684.1 545.5,683.4 552.5,681.5 558.5,682.8 564.5,684.6 570.5,686.0 577.5,685.3 583.5,687.4 589.5,686.5 596.5,683.5 602.5,677.7 608.5,675.9 615.5,677.5 621.5,676.0 627.5,675.3 634.5,676.4 640.5,678.6 646.5,682.6 653.5,685.5 659.5,684.6 665.5,682.9 672.5,684.2 678.5,689.2 684.5,685.1 690.5,686.7 697.5,687.7 703.5,683.0 709.5,682.9 716.5,683.9 722.5,686.0 728.5,685.6 735.5,687.0 741.5,689.4 747.5,687.8 754.5,686.9 760.5,688.7 766.5,690.7 773.5,693.1 779.5,692.1 785.5,691.3 791.5,692.7 798.5,692.6 804.5,694.1 810.5,694.0 817.5,693.1 823.5,689.8 829.5,685.1 836.5,683.2 842.5,684.4 848.5,687.0 855.5,688.3 861.5,690.9 867.5,693.1 874.5,690.7 880.5,691.2 886.5,692.6 892.5,693.1 899.5,695.3 905.5,694.5 911.5,697.0 918.5,695.6 924.5,697.1 930.5,699.2 937.5,701.6 943.5,701.9 949.5,702.0 956.5,702.5 962.5,703.3 968.5,704.3 975.5,704.1 981.5,702.9 987.5,701.3 993.5,701.5 1000.5,701.2 1006.5,703.5 1012.5,702.0 1019.5,704.3 1025.5,706.8 1031.5,706.7 1038.5,704.4 1044.5,699.0 1050.5,697.4 1057.5,698.4 1063.5,700.2 1069.5,702.6 1076.5,702.6 1082.5,704.9 1088.5,702.7 1095.5,704.5 1101.5,702.9 1107.5,704.3 1113.5,703.8 1120.5,705.1 1126.5,705.5 1132.5,697.8 1139.5,698.3 1145.5,694.6 1151.5,695.7 1158.5,696.4 1164.5,697.1 1170.5,698.6 1177.5,696.9 1183.5,695.9 1189.5,692.7 1196.5,694.9 1202.5,695.3 1208.5,694.4 1214.5,694.1 1221.5,694.3 1227.5,693.8 1233.5,694.4 1240.5,692.7 1246.5,694.4 1252.5,694.9 1259.5,697.2 1265.5,696.9 1271.5,699.3 1278.5,700.8 1284.5,699.6 1290.5,697.7 1297.5,698.9 1303.5,699.3 1309.5,701.6 1315.5,703.6 1322.5,704.1 1328.5,704.6 1334.5,704.0 1341.5,705.5 1347.5,706.7 1353.5,706.1 1360.5,706.1 1366.5,706.0 1372.5,702.8 1379.5,702.4 1385.5,704.4 1391.5,705.7 1398.5,703.6 1404.5,704.8 1410.5,706.2 1416.5,702.2 1423.5,702.2 1429.5,699.8 1435.5,701.1 1442.5,702.2 1448.5,704.1 1454.5,704.0 1461.5,705.9" fill="none" stroke="#b92d30" stroke-width="1.1" stroke-linejoin="round" />
<rect x="6" y="738.3" width="1481.5" height="28.2" fill="#2196f3" fill-opacity="0.1"/>
<line x1="6" x2="1487.5" y1="738.5" y2="738.5" stroke="#787b86" stroke-width="1" stroke-dasharray="5 6" shape-rendering="crispEdges"/>
<line x1="6" x2="1487.5" y1="752.5" y2="752.5" stroke="#787b86" stroke-width="1" stroke-dasharray="5 6" shape-rendering="crispEdges"/>
<line x1="6" x2="1487.5" y1="766.5" y2="766.5" stroke="#787b86" stroke-width="1" stroke-dasharray="5 6" shape-rendering="crispEdges"/>
<polyline points="5.7,769.0 15.5,764.6 28.4,764.1 45.9,767.5 64.5,756.6 72.3,758.2 83.9,753.0 90.3,763.9 96.8,778.1 103.2,785.5 110.5,780.1 116.1,770.3 122.1,753.0 128.3,754.8 129.5,755.7 135.5,767.3 141.5,766.8 147.5,772.1 154.5,776.7 160.5,779.0 166.5,774.5 173.5,768.3 179.5,768.2 185.5,767.9 192.5,770.6 198.5,771.7 204.5,770.8 211.5,768.4 217.5,769.7 223.5,774.8 230.5,775.0 236.5,775.1 242.5,774.9 248.5,774.7 255.5,769.4 261.5,765.1 267.5,769.4 274.5,770.6 280.5,766.2 286.5,761.9 293.5,758.5 299.5,756.8 305.5,751.8 312.5,746.1 318.5,753.5 324.5,760.7 331.5,756.2 337.5,757.2 343.5,758.7 350.5,762.2 356.5,761.6 362.5,744.0 368.5,747.7 375.5,764.1 381.5,766.3 387.5,761.5 394.5,759.1 400.5,757.6 406.5,762.5 413.5,749.6 419.5,725.2 425.5,722.1 432.5,734.8 438.5,738.7 444.5,743.8 451.5,749.3 457.5,743.5 463.5,724.6 469.5,728.1 476.5,733.9 482.5,734.7 488.5,732.7 495.5,732.3 501.5,737.1 507.5,736.5 514.5,734.8 520.5,733.7 526.5,732.1 533.5,731.8 539.5,737.4 545.5,736.8 552.5,740.1 558.5,744.2 564.5,747.3 570.5,747.5 577.5,751.8 583.5,752.3 589.5,752.8 596.5,750.9 602.5,731.1 608.5,735.3 615.5,744.4 621.5,737.5 627.5,745.9 634.5,746.9 640.5,740.3 646.5,743.3 653.5,740.8 659.5,732.4 665.5,736.0 672.5,740.6 678.5,743.2 684.5,752.8 690.5,755.5 697.5,749.7 703.5,748.6 709.5,742.9 716.5,745.6 722.5,745.3 728.5,738.8 735.5,738.2 741.5,744.8 747.5,767.5 754.5,769.1 760.5,759.8 766.5,757.7 773.5,752.6 779.5,757.6 785.5,746.1 791.5,750.4 798.5,749.0 804.5,755.2 810.5,759.9 817.5,756.1 823.5,752.3 829.5,767.8 836.5,799.3 842.5,784.8 848.5,769.2 855.5,769.1 861.5,764.1 867.5,761.1 874.5,762.8 880.5,770.0 886.5,766.2 892.5,762.9 899.5,760.0 905.5,755.8 911.5,754.2 918.5,746.2 924.5,741.8 930.5,739.7 937.5,739.4 943.5,744.4 949.5,747.8 956.5,747.0 962.5,734.8 968.5,730.0 975.5,728.6 981.5,722.0 987.5,716.7 993.5,727.4 1000.5,735.8 1006.5,737.1 1012.5,742.4 1019.5,747.2 1025.5,749.7 1031.5,754.2 1038.5,747.3 1044.5,756.7 1050.5,771.4 1057.5,768.4 1063.5,765.4 1069.5,766.9 1076.5,767.5 1082.5,766.3 1088.5,771.3 1095.5,770.0 1101.5,761.7 1107.5,757.3 1113.5,760.6 1120.5,756.7 1126.5,750.4 1132.5,765.2 1139.5,772.3 1145.5,783.6 1151.5,782.7 1158.5,779.8 1164.5,773.6 1170.5,770.4 1177.5,773.2 1183.5,775.1 1189.5,765.9 1196.5,760.9 1202.5,755.4 1208.5,755.2 1214.5,749.8 1221.5,752.1 1227.5,751.8 1233.5,750.3 1240.5,741.8 1246.5,741.0 1252.5,745.2 1259.5,750.8 1265.5,748.9 1271.5,744.4 1278.5,740.1 1284.5,737.4 1290.5,724.3 1297.5,724.8 1303.5,726.5 1309.5,727.2 1315.5,730.8 1322.5,732.2 1328.5,737.1 1334.5,737.9 1341.5,736.1 1347.5,736.7 1353.5,742.7 1360.5,743.9 1366.5,742.9 1372.5,740.1 1379.5,739.8 1385.5,739.6 1391.5,738.3 1398.5,744.5 1404.5,753.7 1410.5,751.8 1416.5,733.3 1423.5,743.8 1429.5,766.8 1435.5,769.9 1442.5,766.8 1448.5,759.4 1454.5,771.4 1461.5,775.8" fill="none" stroke="#2962ff" stroke-width="1.1" stroke-linejoin="round" />
<rect x="1488.0" y="4" width="59.0" height="830" fill="#ffffff"/>
<g shape-rendering="crispEdges"><rect x="1487" y="4" width="1" height="829" fill="#4a4a4a"/><rect x="6" y="805" width="1541" height="1" fill="#4a4a4a"/></g>
<g shape-rendering="crispEdges"><rect x="1488" y="668" width="59" height="1" fill="#e0e3eb"/><rect x="1488" y="710" width="59" height="1" fill="#e0e3eb"/></g>
<text x="1496" y="72.8" font-size="12" fill="#5a5d66" text-anchor="start" font-weight="normal" font-family="Liberation Sans, sans-serif" textLength="35" lengthAdjust="spacingAndGlyphs" >1.2850</text>
<text x="1496" y="107.8" font-size="12" fill="#5a5d66" text-anchor="start" font-weight="normal" font-family="Liberation Sans, sans-serif" textLength="35" lengthAdjust="spacingAndGlyphs" >1.2800</text>
<text x="1496" y="141.8" font-size="12" fill="#5a5d66" text-anchor="start" font-weight="normal" font-family="Liberation Sans, sans-serif" textLength="35" lengthAdjust="spacingAndGlyphs" >1.2750</text>
<text x="1496" y="176.8" font-size="12" fill="#5a5d66" text-anchor="start" font-weight="normal" font-family="Liberation Sans, sans-serif" textLength="35" lengthAdjust="spacingAndGlyphs" >1.2700</text>
<text x="1496" y="211.8" font-size="12" fill="#5a5d66" text-anchor="start" font-weight="normal" font-family="Liberation Sans, sans-serif" textLength="35" lengthAdjust="spacingAndGlyphs" >1.2650</text>
<text x="1496" y="246.8" font-size="12" fill="#5a5d66" text-anchor="start" font-weight="normal" font-family="Liberation Sans, sans-serif" textLength="35" lengthAdjust="spacingAndGlyphs" >1.2600</text>
<text x="1496" y="281.8" font-size="12" fill="#5a5d66" text-anchor="start" font-weight="normal" font-family="Liberation Sans, sans-serif" textLength="35" lengthAdjust="spacingAndGlyphs" >1.2550</text>
<text x="1496" y="315.8" font-size="12" fill="#5a5d66" text-anchor="start" font-weight="normal" font-family="Liberation Sans, sans-serif" textLength="35" lengthAdjust="spacingAndGlyphs" >1.2500</text>
<text x="1496" y="350.8" font-size="12" fill="#5a5d66" text-anchor="start" font-weight="normal" font-family="Liberation Sans, sans-serif" textLength="35" lengthAdjust="spacingAndGlyphs" >1.2450</text>
<text x="1496" y="385.8" font-size="12" fill="#5a5d66" text-anchor="start" font-weight="normal" font-family="Liberation Sans, sans-serif" textLength="35" lengthAdjust="spacingAndGlyphs" >1.2400</text>
<text x="1496" y="420.8" font-size="12" fill="#5a5d66" text-anchor="start" font-weight="normal" font-family="Liberation Sans, sans-serif" textLength="35" lengthAdjust="spacingAndGlyphs" >1.2350</text>
<text x="1496" y="455.8" font-size="12" fill="#5a5d66" text-anchor="start" font-weight="normal" font-family="Liberation Sans, sans-serif" textLength="35" lengthAdjust="spacingAndGlyphs" >1.2300</text>
<text x="1496" y="490.8" font-size="12" fill="#5a5d66" text-anchor="start" font-weight="normal" font-family="Liberation Sans, sans-serif" textLength="35" lengthAdjust="spacingAndGlyphs" >1.2250</text>
<text x="1496" y="524.8" font-size="12" fill="#5a5d66" text-anchor="start" font-weight="normal" font-family="Liberation Sans, sans-serif" textLength="35" lengthAdjust="spacingAndGlyphs" >1.2200</text>
<text x="1496" y="559.8" font-size="12" fill="#5a5d66" text-anchor="start" font-weight="normal" font-family="Liberation Sans, sans-serif" textLength="35" lengthAdjust="spacingAndGlyphs" >1.2150</text>
<text x="1496" y="594.8" font-size="12" fill="#5a5d66" text-anchor="start" font-weight="normal" font-family="Liberation Sans, sans-serif" textLength="35" lengthAdjust="spacingAndGlyphs" >1.2100</text>
<text x="1496" y="629.8" font-size="12" fill="#5a5d66" text-anchor="start" font-weight="normal" font-family="Liberation Sans, sans-serif" textLength="35" lengthAdjust="spacingAndGlyphs" >1.2050</text>
<text x="1496" y="664.8" font-size="12" fill="#5a5d66" text-anchor="start" font-weight="normal" font-family="Liberation Sans, sans-serif" textLength="35" lengthAdjust="spacingAndGlyphs" >1.2000</text>
<text x="1496" y="678.8" font-size="12" fill="#5a5d66" text-anchor="start" font-weight="normal" font-family="Liberation Sans, sans-serif" textLength="35" lengthAdjust="spacingAndGlyphs" >0.0100</text>
<text x="1496" y="721.8" font-size="12" fill="#5a5d66" text-anchor="start" font-weight="normal" font-family="Liberation Sans, sans-serif" textLength="35" lengthAdjust="spacingAndGlyphs" >250.00</text>
<text x="1496" y="756.8" font-size="12" fill="#5a5d66" text-anchor="start" font-weight="normal" font-family="Liberation Sans, sans-serif" textLength="22" lengthAdjust="spacingAndGlyphs" >0.00</text>
<text x="1496" y="791.8" font-size="12" fill="#5a5d66" text-anchor="start" font-weight="normal" font-family="Liberation Sans, sans-serif" textLength="41" lengthAdjust="spacingAndGlyphs" >−250.00</text>
<rect x="1488" y="135.29999999999998" width="48" height="16.5" rx="2" fill="#000"/>
<text x="1496" y="147.4" font-size="12" fill="#fff" text-anchor="start" font-weight="bold" font-family="Liberation Sans, sans-serif" textLength="35" lengthAdjust="spacingAndGlyphs" >1.2742</text>
<rect x="1488" y="187.2" width="48" height="16.5" rx="2" fill="#000"/>
<text x="1496" y="199.3" font-size="12" fill="#fff" text-anchor="start" font-weight="bold" font-family="Liberation Sans, sans-serif" textLength="35" lengthAdjust="spacingAndGlyphs" >1.2667</text>
<rect x="1488" y="271.09999999999997" width="48" height="16.5" rx="2" fill="#000"/>
<text x="1496" y="283.2" font-size="12" fill="#fff" text-anchor="start" font-weight="bold" font-family="Liberation Sans, sans-serif" textLength="35" lengthAdjust="spacingAndGlyphs" >1.2547</text>
<rect x="1488" y="387.3" width="48" height="16.5" rx="2" fill="#000"/>
<text x="1496" y="399.40000000000003" font-size="12" fill="#fff" text-anchor="start" font-weight="bold" font-family="Liberation Sans, sans-serif" textLength="35" lengthAdjust="spacingAndGlyphs" >1.2381</text>
<rect x="1488" y="443.2" width="48" height="16.5" rx="2" fill="#000"/>
<text x="1496" y="455.3" font-size="12" fill="#fff" text-anchor="start" font-weight="bold" font-family="Liberation Sans, sans-serif" textLength="35" lengthAdjust="spacingAndGlyphs" >1.2300</text>
<rect x="1488" y="625.0" width="48" height="16.5" rx="2" fill="#000"/>
<text x="1496" y="637.0999999999999" font-size="12" fill="#fff" text-anchor="start" font-weight="bold" font-family="Liberation Sans, sans-serif" textLength="35" lengthAdjust="spacingAndGlyphs" >1.2039</text>
<text x="135.0" y="823.5" font-size="12" fill="#5a5d66" text-anchor="middle" font-weight="normal" font-family="Liberation Sans, sans-serif" >Sep</text>
<text x="267.0" y="823.5" font-size="12" fill="#5a5d66" text-anchor="middle" font-weight="normal" font-family="Liberation Sans, sans-serif" >Oct</text>
<text x="406.0" y="823.5" font-size="12" fill="#5a5d66" text-anchor="middle" font-weight="normal" font-family="Liberation Sans, sans-serif" >Nov</text>
<text x="545.0" y="823.5" font-size="12" fill="#5a5d66" text-anchor="middle" font-weight="normal" font-family="Liberation Sans, sans-serif" >Dec</text>
<text x="678.0" y="823.5" font-size="12" fill="#333" text-anchor="middle" font-weight="bold" font-family="Liberation Sans, sans-serif" >2024</text>
<text x="823.0" y="823.5" font-size="12" fill="#5a5d66" text-anchor="middle" font-weight="normal" font-family="Liberation Sans, sans-serif" >Feb</text>
<text x="956.0" y="823.5" font-size="12" fill="#5a5d66" text-anchor="middle" font-weight="normal" font-family="Liberation Sans, sans-serif" >Mar</text>
<text x="1088.0" y="823.5" font-size="12" fill="#5a5d66" text-anchor="middle" font-weight="normal" font-family="Liberation Sans, sans-serif" >Apr</text>
<text x="1227.0" y="823.5" font-size="12" fill="#5a5d66" text-anchor="middle" font-weight="normal" font-family="Liberation Sans, sans-serif" >May</text>
<text x="1372.0" y="823.5" font-size="12" fill="#5a5d66" text-anchor="middle" font-weight="normal" font-family="Liberation Sans, sans-serif" >Jun</text>
<rect x="1491.5" y="8.5" width="51" height="25" rx="4" fill="#fff" stroke="#e0e3eb"/>
<text x="1495.5" y="25.3" font-size="12" fill="#131722" text-anchor="start" font-weight="normal" font-family="Liberation Sans, sans-serif" textLength="22" lengthAdjust="spacingAndGlyphs" >USD</text>
<path d="M1532.5 19.5l3 3l3-3" fill="none" stroke="#131722" stroke-width="1.5"/>
<path fill="#e0e3eb" fill-rule="evenodd" d="M0 0H1550V834H0Z M9 4H1544Q1547 4 1547 7V833H6V7Q6 4 9 4Z"/>
<path fill="#f4f5f8" d="M0 8Q0 5 2 5V834H0Z"/>
<path d="M10 8H300V32.4H150V63.7H560V87H10Z" fill="#fff" fill-opacity="0.5"/>
<defs><clipPath id="cus"><circle cx="26.9" cy="16.4" r="5.9"/></clipPath><clipPath id="cuk"><circle cx="21" cy="22.9" r="6.3"/></clipPath></defs>
<g clip-path="url(#cus)"><rect x="20" y="10" width="14" height="13" fill="#fff"/><rect x="20" y="10.50" width="14" height="1.7" fill="#e0393f"/><rect x="20" y="13.90" width="14" height="1.7" fill="#e0393f"/><rect x="20" y="17.30" width="14" height="1.7" fill="#e0393f"/><rect x="20" y="20.70" width="14" height="1.7" fill="#e0393f"/><rect x="20" y="10" width="7.2" height="7.2" fill="#3b62c4"/><circle cx="21.6" cy="11.6" r="0.55" fill="#fff"/><circle cx="23.4" cy="11.6" r="0.55" fill="#fff"/><circle cx="25.2" cy="11.6" r="0.55" fill="#fff"/><circle cx="21.6" cy="13.4" r="0.55" fill="#fff"/><circle cx="23.4" cy="13.4" r="0.55" fill="#fff"/><circle cx="25.2" cy="13.4" r="0.55" fill="#fff"/><circle cx="21.6" cy="15.2" r="0.55" fill="#fff"/><circle cx="23.4" cy="15.2" r="0.55" fill="#fff"/><circle cx="25.2" cy="15.2" r="0.55" fill="#fff"/></g>
<circle cx="21" cy="22.9" r="7.3" fill="#fdeaea"/>
<g clip-path="url(#cuk)"><rect x="14" y="16" width="14" height="14" fill="#2a4fae"/><path d="M14.7 16.6L27.3 29.2M27.3 16.6L14.7 29.2" stroke="#fff" stroke-width="2.2"/><path d="M14.7 16.6L27.3 29.2M27.3 16.6L14.7 29.2" stroke="#e0393f" stroke-width="0.8"/><path d="M21 16V30M14 22.9H28" stroke="#fff" stroke-width="3"/><path d="M21 16V30M14 22.9H28" stroke="#e0393f" stroke-width="1.5"/></g>
<text x="37.5" y="25.7" font-size="14" fill="#4a4d57" text-anchor="start" font-weight="normal" font-family="Liberation Sans, sans-serif" textLength="252.8" lengthAdjust="spacingAndGlyphs" >British Pound / U.S. Dollar · 1D · ICE</text>
<path d="M303.5 14.5h11.5l-4 5.75l4 5.75h-11.5z" fill="#f7525f"/>
<circle cx="343" cy="19.8" r="8.9" fill="#089981" fill-opacity="0.16"/><circle cx="343" cy="19.8" r="4.2" fill="#089981"/>
<text x="368.3" y="24.8" font-size="12" fill="#6a6d78" text-anchor="start" font-weight="normal" font-family="Liberation Sans, sans-serif" textLength="9" lengthAdjust="spacingAndGlyphs" >O</text>
<text x="379.7" y="24.8" font-size="12" fill="#5e2b2b" text-anchor="start" font-weight="normal" font-family="Liberation Sans, sans-serif" textLength="36.9" lengthAdjust="spacingAndGlyphs" >1.2657</text>
<text x="423.6" y="24.8" font-size="12" fill="#6a6d78" text-anchor="start" font-weight="normal" font-family="Liberation Sans, sans-serif" textLength="8" lengthAdjust="spacingAndGlyphs" >H</text>
<text x="433.5" y="24.8" font-size="12" fill="#5e2b2b" text-anchor="start" font-weight="normal" font-family="Liberation Sans, sans-serif" textLength="37.2" lengthAdjust="spacingAndGlyphs" >1.2675</text>
<text x="477.8" y="24.8" font-size="12" fill="#6a6d78" text-anchor="start" font-weight="normal" font-family="Liberation Sans, sans-serif" textLength="6" lengthAdjust="spacingAndGlyphs" >L</text>
<text x="485.7" y="24.8" font-size="12" fill="#5e2b2b" text-anchor="start" font-weight="normal" font-family="Liberation Sans, sans-serif" textLength="37.7" lengthAdjust="spacingAndGlyphs" >1.2637</text>
<text x="530" y="24.8" font-size="12" fill="#6a6d78" text-anchor="start" font-weight="normal" font-family="Liberation Sans, sans-serif" textLength="7.5" lengthAdjust="spacingAndGlyphs" >C</text>
<text x="539.4" y="24.8" font-size="12" fill="#5e2b2b" text-anchor="start" font-weight="normal" font-family="Liberation Sans, sans-serif" textLength="37.7" lengthAdjust="spacingAndGlyphs" >1.2647</text>
<text x="584.1" y="24.8" font-size="12" fill="#5e2b2b" text-anchor="start" font-weight="normal" font-family="Liberation Sans, sans-serif" textLength="43.9" lengthAdjust="spacingAndGlyphs" >−0.0011</text>
<text x="634.1" y="24.8" font-size="12" fill="#5e2b2b" text-anchor="start" font-weight="normal" font-family="Liberation Sans, sans-serif" textLength="48.3" lengthAdjust="spacingAndGlyphs" >(−0.09%)</text>
<rect x="14.5" y="36.5" width="54" height="23" rx="4" fill="#fff" stroke="#f23645"/>
<text x="22.7" y="52.6" font-size="12" fill="#f23645" text-anchor="start" font-weight="normal" font-family="Liberation Sans, sans-serif" textLength="37.5" lengthAdjust="spacingAndGlyphs" >1.2649</text>
<text x="77" y="52.6" font-size="12" fill="#131722" text-anchor="start" font-weight="normal" font-family="Liberation Sans, sans-serif" textLength="6" lengthAdjust="spacingAndGlyphs" >0</text>
<rect x="91.5" y="36.5" width="54.5" height="23" rx="4" fill="#fff" stroke="#2962ff"/>
<text x="99.7" y="52.6" font-size="12" fill="#2962ff" text-anchor="start" font-weight="normal" font-family="Liberation Sans, sans-serif" textLength="37.5" lengthAdjust="spacingAndGlyphs" >1.2649</text>
<text x="15.1" y="80.3" font-size="12" fill="#4a4d57" text-anchor="start" font-weight="normal" font-family="Liberation Sans, sans-serif" textLength="382.6" lengthAdjust="spacingAndGlyphs" >MA Ribbon SMA close 20 SMA close 50 SMA close 100 SMA close 200</text>
<text x="407.1" y="80.3" font-size="12" fill="#f23645" text-anchor="start" font-weight="normal" font-family="Liberation Sans, sans-serif" textLength="37.3" lengthAdjust="spacingAndGlyphs" >1.2736</text>
<text x="452.1" y="80.3" font-size="12" fill="#2962ff" text-anchor="start" font-weight="normal" font-family="Liberation Sans, sans-serif" textLength="37.3" lengthAdjust="spacingAndGlyphs" >1.2623</text>
<text x="496.4" y="80.3" font-size="11" fill="#131722" text-anchor="start" font-weight="normal" font-family="Liberation Sans, sans-serif" textLength="7.2" lengthAdjust="spacingAndGlyphs" >Ø</text>
<text x="510.9" y="80.3" font-size="12" fill="#131722" text-anchor="start" font-weight="normal" font-family="Liberation Sans, sans-serif" textLength="37.3" lengthAdjust="spacingAndGlyphs" >1.2555</text>
<rect x="15.5" y="90.5" width="28" height="20" rx="3" fill="#fff" fill-opacity="0.85" stroke="#d6d8e0"/>
<path d="M25.5 102.5l4-4l4 4" fill="none" stroke="#131722" stroke-width="1.3"/>
<rect x="10" y="679" width="122" height="17" fill="#fff" fill-opacity="0.5"/><rect x="10" y="721" width="164" height="17" fill="#fff" fill-opacity="0.5"/>
<text x="15.1" y="690" font-size="12" fill="#4a4d57" text-anchor="start" font-weight="normal" font-family="Liberation Sans, sans-serif" textLength="67" lengthAdjust="spacingAndGlyphs" >ATR 14 RMA</text>
<text x="90.5" y="690" font-size="12" fill="#b92d30" text-anchor="start" font-weight="normal" font-family="Liberation Sans, sans-serif" textLength="38" lengthAdjust="spacingAndGlyphs" >0.0065</text>
<text x="15.1" y="732" font-size="12" fill="#4a4d57" text-anchor="start" font-weight="normal" font-family="Liberation Sans, sans-serif" textLength="101.5" lengthAdjust="spacingAndGlyphs" >CCI 20 hlc3 SMA 5</text>
<text x="125.5" y="732" font-size="12" fill="#2962ff" text-anchor="start" font-weight="normal" font-family="Liberation Sans, sans-serif" textLength="45" lengthAdjust="spacingAndGlyphs" >−168.44</text>
<g stroke="#fff" stroke-width="2" stroke-linejoin="round" paint-order="stroke" fill="#131722"><path d="M18 776.1h11.7v14.8h-5.7v-9.2h-6z"/><circle cx="34.9" cy="778.9" r="2.8"/><path d="M39 776.1h8.9l-6.2 14.8h-6.7z"/></g>
<g fill="none" stroke="#131722" stroke-width="1.2"><path d="M1510.3 819.8l3.5-6.1h7l3.5 6.1l-3.5 6.1h-7z"/><circle cx="1517.3" cy="819.8" r="2.2"/></g>
<defs><filter id="wsh" x="-20%" y="-20%" width="150%" height="150%"><feOffset in="SourceAlpha" dx="2.2" dy="2.2" result="o"/><feGaussianBlur in="o" stdDeviation="0.9" result="ob"/><feComposite in="ob" in2="SourceAlpha" operator="out" result="sh"/><feColorMatrix in="sh" type="matrix" values="0 0 0 0 0  0 0 0 0 0  0 0 0 0 0  0 0 0 0.6 0" result="shc"/><feColorMatrix in="SourceGraphic" type="matrix" values="1 0 0 0 0  0 1 0 0 0  0 0 1 0 0  0 0 0 0.85 0" result="m"/><feMerge><feMergeNode in="shc"/><feMergeNode in="m"/></feMerge></filter><filter id="bsh" x="-20%" y="-20%" width="150%" height="150%"><feOffset in="SourceAlpha" dx="1.7" dy="1.7" result="o"/><feGaussianBlur in="o" stdDeviation="0.3" result="ob"/><feComposite in="ob" in2="SourceAlpha" operator="out" result="sh"/><feColorMatrix in="sh" type="matrix" values="0 0 0 0 0.1  0 0 0 0 0.15  0 0 0 0 0.3  0 0 0 0.55 0" result="shc"/><feColorMatrix in="SourceGraphic" type="matrix" values="1 0 0 0 0  0 1 0 0 0  0 0 1 0 0  0 0 0 0.5 0" result="m"/><feMerge><feMergeNode in="shc"/><feMergeNode in="m"/></feMerge></filter></defs>
<g filter="url(#wsh)" fill="none" stroke="#fff" stroke-linecap="square" stroke-linejoin="miter"><path stroke-width="8" d="M1318,743.4L1323.9,755.2"/><path stroke-width="8" d="M1313.4,761L1319.7,772"/><path stroke-width="7" d="M1321.4,775.7L1316,788.7L1310.9,794.6L1303.4,796.3"/><path stroke-width="4" d="M1334.4,750.6H1367.1"/><path stroke-width="5" d="M1367.1,744.3L1365.9,750.6"/><path stroke-width="5" d="M1347.8,742.6L1335.2,751.8"/><path stroke-width="4" d="M1336.1,760.2H1363.8"/><path stroke-width="6" d="M1336.1,760.2L1328.5,787.9"/><path stroke-width="6" d="M1363.8,755.2L1354.5,790.4L1347,796.3H1320.1"/><path stroke-width="4" d="M1321,777.8H1360.4"/><path stroke-width="3" d="M1328.5,787.9H1353.7"/><path stroke-width="3" d="M1347,763.6L1350.3,769.4"/><path stroke-width="3" d="M1343.6,780.3L1345.7,787"/><path stroke-width="4" d="M1375.9,750.1H1414.9"/><path stroke-width="6" d="M1383.1,751L1380.5,762.7"/><path stroke-width="7" d="M1372.1,768.2H1410.7"/><path stroke-width="5" d="M1414.9,750.1L1412.4,763.6"/><path stroke-width="7" d="M1424.2,744.3L1415.8,788.7L1411.6,794.6L1391.4,796.3"/><path stroke-width="5" d="M1366.3,785.8H1405.7"/><path stroke-width="5" d="M1410.7,771.5L1406.5,785.4"/><path stroke-width="7" d="M1425.9,742.6L1415,783.7"/><path stroke-width="4" d="M1425.9,743.8H1461.1"/><path stroke-width="6" d="M1461.1,743.4L1453.1,773.6"/><path stroke-width="4" d="M1439.3,751.8H1451"/><path stroke-width="6" d="M1451,751.8L1443.5,782"/><path stroke-width="5" d="M1439.3,751.8L1432.6,780.3"/><path stroke-width="7" d="M1432.6,783.7L1423.4,795.4"/><path stroke-width="6" d="M1443.5,783.7L1447.7,793.8"/><path stroke-width="4" d="M1460.3,755.2H1474.5"/><path stroke-width="7" d="M1487.1,745.1L1474.5,793.8L1462,796.3"/><path stroke-width="6" d="M1472.9,757.7L1457.8,792.1"/><path stroke-width="3" d="M1514,743.4L1499.7,757.7L1516.5,755.6"/><path stroke-width="5" d="M1516.5,755.2L1498.4,774L1511.4,772"/><path stroke-width="2.5" d="M1492.1,766.1L1496.3,765.7"/><path stroke-width="2.5" d="M1519,749.7H1533.3"/><path stroke-width="6" d="M1548.4,743.4L1536.2,758.5"/><path stroke-width="5" d="M1528.2,757.7L1543.3,763.6"/><path stroke-width="5" d="M1513.1,769.4L1528.2,764.4L1540.8,769"/><path stroke-width="5" d="M1508.1,779.1H1540"/><path stroke-width="6" d="M1528.2,779.1L1524,794.6"/><path stroke-width="5" d="M1484.2,795.9H1536.6"/></g>
<text filter="url(#bsh)" x="1315.2 1342 1371.4 1394.9 1415 1447.7 1472.9 1493 1520.7" y="828.2" font-size="31" font-weight="bold" font-style="italic" fill="#1e90ff" font-family="Liberation Sans, sans-serif">zzrt01.cn</text>
</svg>
</body></html>
